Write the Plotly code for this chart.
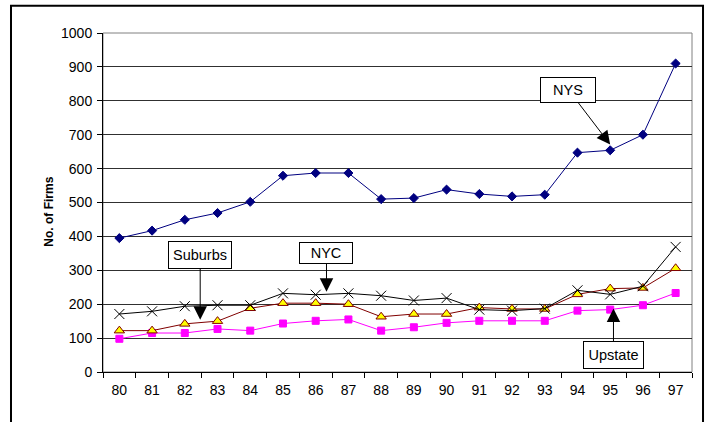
import plotly.graph_objects as go

years = ["80", "81", "82", "83", "84", "85", "86", "87", "88", "89",
         "90", "91", "92", "93", "94", "95", "96", "97"]
nys = [395, 417, 449, 469, 502, 579, 587, 587, 510, 513, 538, 525, 518, 523, 647, 654, 700, 910]
nyc = [171, 179, 194, 197, 197, 232, 228, 232, 225, 211, 218, 184, 181, 187, 241, 229, 253, 369]
suburbs = [122, 122, 142, 150, 188, 203, 203, 200, 163, 171, 171, 190, 186, 186, 229, 246, 248, 306]
upstate = [98, 115, 115, 127, 122, 143, 151, 155, 122, 132, 145, 151, 151, 151, 181, 184, 197, 233]
y_ticks = [0, 100, 200, 300, 400, 500, 600, 700, 800, 900, 1000]

FONT = "Liberation Sans, Arial, sans-serif"

fig = go.Figure()
fig.add_trace(go.Scatter(x=years, y=nys, mode="lines+markers", name="NYS",
                         line=dict(color="#000080", width=1),
                         marker=dict(symbol="diamond", size=7, color="#000080",
                                     line=dict(color="#000080", width=1))))
fig.add_trace(go.Scatter(x=years, y=upstate, mode="lines+markers", name="Upstate",
                         line=dict(color="#FF00FF", width=1),
                         marker=dict(symbol="square", size=7, color="#FF00FF",
                                     line=dict(color="#FF00FF", width=1))))
fig.add_trace(go.Scatter(x=years, y=suburbs, mode="lines+markers", name="Suburbs",
                         line=dict(color="#800000", width=1),
                         marker=dict(symbol="triangle-up", size=9, color="#FFFF00",
                                     line=dict(color="#800000", width=1))))
fig.add_trace(go.Scatter(x=years, y=nyc, mode="lines+markers", name="NYC",
                         line=dict(color="#000000", width=1),
                         marker=dict(symbol="x-thin-open", size=10, color="#000000",
                                     line=dict(color="#000000", width=1))))

def box(text, x, y, ax, ay, w, h):
    return dict(text=text, x=x, y=y, xref="x", yref="y", ax=ax, ay=ay,
                showarrow=True, arrowhead=2, arrowsize=2.7, arrowwidth=1,
                arrowcolor="#000000", bgcolor="#FFFFFF", bordercolor="#000000",
                borderwidth=1, borderpad=1, width=w, height=h,
                font=dict(family=FONT, size=14.5, color="#000000"))

annotations = [
    box("NYS", 15.0, 671, -42, -55, 52, 22),
    box("Suburbs", 2.47, 154, 0, -65, 60, 24),
    box("NYC", 6.33, 237, 0, -39, 50, 18),
    box("Upstate", 15.1, 187, 0, 46, 57, 24),
    dict(text="<b>No. of Firms</b>", x=-0.107, y=0.473, xref="paper", yref="paper",
         showarrow=False, textangle=-90, font=dict(family=FONT, size=12, color="#000000")),
]

shapes = [
    dict(type="rect", xref="paper", yref="paper", x0=0, x1=1, y0=0, y1=1,
         line=dict(color="#808080", width=1), layer="below"),
    dict(type="rect", xref="paper", yref="paper", x0=-0.1562, x1=1.0187, y0=-0.2, y1=1.0805,
         line=dict(color="#000000", width=2)),
]

fig.update_layout(
    width=707, height=422,
    margin=dict(l=103, r=15, t=33, b=50),
    paper_bgcolor="#FFFFFF", plot_bgcolor="#FFFFFF",
    showlegend=False,
    font=dict(family=FONT, size=14, color="#000000"),
    annotations=annotations, shapes=shapes,
    xaxis=dict(type="category", tickson="boundaries", ticks="outside", ticklen=5,
               tickcolor="#000000", showline=True, linecolor="#000000", linewidth=1,
               showgrid=False, ticklabelstandoff=5, range=[-0.5, 17.5],
               tickfont=dict(family=FONT, size=14)),
    yaxis=dict(range=[0, 1000], tickvals=y_ticks, ticks="outside", ticklen=5,
               tickcolor="#000000", showline=True, linecolor="#000000", linewidth=1,
               showgrid=True, gridcolor="#303030", gridwidth=1, zeroline=False,
               ticklabelstandoff=2, tickfont=dict(family=FONT, size=14)),
)

fig.write_html("out.html")
